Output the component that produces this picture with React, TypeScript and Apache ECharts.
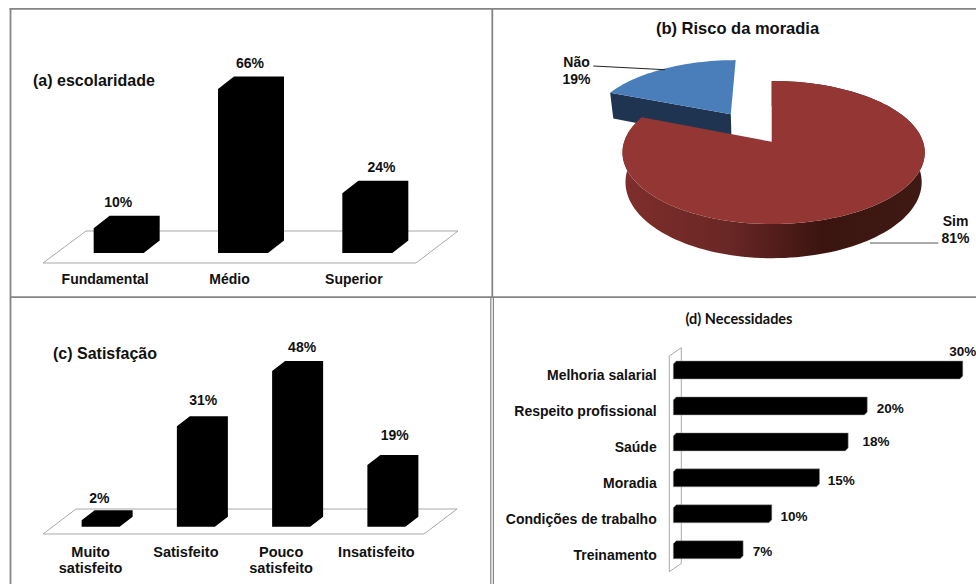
import React, { useEffect, useRef } from "react";
import * as echarts from "echarts";

const schoolingCategories = ["Fundamental", "Médio", "Superior"];
const schoolingValues = [10, 66, 24];
const schoolingLabelNudgeX = [13, 20.5, 27.7];

const riskNames = ["Não", "Sim"];
const riskValues = [19, 81];

const satisfactionCategories = ["Muito\nsatisfeito", "Satisfeito", "Pouco\nsatisfeito", "Insatisfeito"];
const satisfactionValues = [2, 31, 48, 19];
const satisfactionLabelNudgeX = [8.7, 17.3, 21, 18.4];
const satisfactionLabelNudgeY = [12, 15.7, 14, 20];

const needsCategories = ["Melhoria salarial", "Respeito profissional", "Saúde", "Moradia", "Condições de trabalho", "Treinamento"];
const needsValues = [30, 20, 18, 15, 10, 7];
const needsLabelNudgeX = [0, 23, 27.7, 21.7, 22.3, 19.4];
const needsLabelNudgeY = [-23.1, -1.8, -5.1, -2.5, -2.5, -2.8];

const ARIAL = "Liberation Sans, Arial, sans-serif";
const INK = "#111111";
const FRAME = "#858585";
const FLOOR = "#a8a8a8";

const label = (text: string, x: number, y: number, fontSize = 14, align = "center") => ({
  type: "text",
  x,
  y,
  silent: true,
  style: { text, fill: INK, fontFamily: ARIAL, fontWeight: "bold", fontSize, align, verticalAlign: "middle" },
});

function columnSeries(
  gridIndex: number,
  values: number[],
  geo: { w: number; dx: number; dy: number; ox: number; oy: number },
  nudgeX: number[],
  nudgeY: (i: number) => number
) {
  return {
    type: "custom",
    xAxisIndex: gridIndex,
    yAxisIndex: gridIndex,
    z: 5,
    clip: false,
    data: values.map((v, i) => [i, v]),
    encode: { x: 0, y: 1 },
    renderItem: (params: any, api: any) => {
      const i = params.dataIndex;
      const v = api.value(1);
      const [cx, top] = api.coord([i, v]);
      const [, base] = api.coord([i, 0]);
      const x0 = cx + geo.ox - geo.w / 2;
      const x1 = x0 + geo.w;
      const yf = top + geo.oy;
      const yb = base + geo.oy;
      return {
        type: "group",
        children: [
          {
            type: "polygon",
            shape: {
              points: [
                [x0, yb],
                [x0, yf],
                [x0 + geo.dx, yf - geo.dy],
                [x1 + geo.dx, yf - geo.dy],
                [x1 + geo.dx, yb - geo.dy],
                [x1, yb],
              ],
            },
            style: { fill: "#000" },
          },
          label(`${v}%`, cx + nudgeX[i], yf - geo.dy - nudgeY(i)),
        ],
      };
    },
  };
}

const needsSeries = {
  type: "custom",
  xAxisIndex: 2,
  yAxisIndex: 2,
  z: 5,
  clip: false,
  data: needsValues.map((v, i) => [v, i]),
  encode: { x: 0, y: 1 },
  renderItem: (params: any, api: any) => {
    const i = params.dataIndex;
    const v = api.value(0);
    const [end, cy] = api.coord([v, i]);
    const [start] = api.coord([0, i]);
    const x0 = start + 4;
    const x1 = end + 7;
    const yT = cy - 13.8;
    const yB = cy + 4.2;
    return {
      type: "group",
      children: [
        {
          type: "polygon",
          shape: {
            points: [
              [x0, yT + 3],
              [x0 + 3, yT],
              [x1, yT],
              [x1, yB - 3],
              [x1 - 3, yB],
              [x0, yB],
            ],
          },
          style: { fill: "#000", stroke: "#9a9a9a", lineWidth: 0.5 },
        },
        label(`${v}%`, x1 + needsLabelNudgeX[i], cy + needsLabelNudgeY[i], 13.5),
      ],
    };
  },
};

// Perspective of the tilted pie disc: unit-circle coordinates to screen pixels.
const PIE_X = 771.7;
const PIE_Y = 141.7;
const PIE_K = 0.151;
const PIE_A = 69.9;
const pieWidth = (u: number) => (u < 0 ? 147.5 : 151.3);
const pieTop = (u: number, v: number): [number, number] => {
  const d = 1 + PIE_K * v;
  return [PIE_X + (pieWidth(u) * u) / d, PIE_Y - (PIE_A * v) / d];
};
const pieLow = (u: number, v: number): [number, number] => {
  const d = 1 + PIE_K * v;
  return [PIE_X + (0.98 * pieWidth(u) * u) / d, PIE_Y - (PIE_A * v) / d + 29 / d];
};

const riskSeries = {
  type: "custom",
  coordinateSystem: "none",
  z: 5,
  data: riskValues,
  renderItem: (params: any, api: any) => {
    const i = params.dataIndex;
    const value = api.value(0);
    const total = riskValues[0] + riskValues[1];
    const isSim = riskNames[i] === "Sim";
    const sweep = (value / total) * 360;
    const start = isSim ? 0 : 360 - sweep;
    const mid = ((start + sweep / 2) * Math.PI) / 180;
    const off = isSim ? 0 : 0.504;
    const ou = off * Math.sin(mid);
    const ov = off * Math.cos(mid);
    const rim: [number, number][] = [];
    const n = Math.ceil(sweep / 2);
    for (let k = 0; k <= n; k++) {
      const a = ((start + (sweep * k) / n) * Math.PI) / 180;
      rim.push([ou + Math.sin(a), ov + Math.cos(a)]);
    }
    const topArc = rim.map(([u, v]) => pieTop(u, v));
    const apex = pieTop(ou, ov);
    const children: any[] = [];
    if (isSim) {
      const lowArc = rim.map(([u, v]) => pieLow(u, v)).reverse();
      children.push({
        type: "polygon",
        shape: { points: [...topArc, ...lowArc] },
        style: {
          fill: new echarts.graphic.LinearGradient(0, 0, 1, 0, [
            { offset: 0, color: "#7e2e2c" },
            { offset: 0.35, color: "#6a2725" },
            { offset: 0.66, color: "#3b1410" },
            { offset: 1, color: "#3f1a14" },
          ]),
        },
      });
      children.push({
        type: "polygon",
        shape: { points: [apex, ...topArc] },
        style: { fill: "#943634" },
      });
      children.push({
        type: "line",
        shape: { x1: 870, y1: 243, x2: 938.3, y2: 243 },
        style: { stroke: "#555", lineWidth: 1.2 },
      });
      children.push(label(`${riskNames[i]}\n${value}%`, 955.5, 229.5));
      (children[children.length - 1].style as any).lineHeight = 17;
    } else {
      const rimStart = rim[0];
      children.push({
        type: "polygon",
        x: -1.6,
        shape: {
          points: [apex, topArc[0], pieLow(rimStart[0], rimStart[1]), pieLow(ou, ov)],
        },
        style: { fill: "#1f3450" },
      });
      children.push({
        type: "polygon",
        x: -1.6,
        shape: { points: [apex, ...topArc] },
        style: { fill: "#4a7ebb" },
      });
      children.push({
        type: "line",
        shape: { x1: 593.3, y1: 66, x2: 665, y2: 69.7 },
        style: { stroke: "#222", lineWidth: 1 },
      });
      children.push(label(`${riskNames[i]}\n${value}%`, 576.5, 70));
      (children[children.length - 1].style as any).lineHeight = 17;
    }
    return { type: "group", children };
  },
};

const hiddenValueAxis = (gridIndex: number, max: number) => ({
  type: "value",
  gridIndex,
  min: 0,
  max,
  show: false,
});

const categoryAxis = (gridIndex: number, data: string[], fontSize: number, margin: number, inverse = false) => ({
  type: "category",
  gridIndex,
  data,
  inverse,
  axisLine: { show: false },
  axisTick: { show: false },
  splitLine: { show: false },
  axisLabel: {
    interval: 0,
    margin,
    color: INK,
    fontFamily: ARIAL,
    fontWeight: "bold",
    fontSize,
    lineHeight: 16.7,
  },
});

const frameLine = (x1: number, y1: number, x2: number, y2: number, lineWidth = 1.8) => ({
  type: "line",
  z: 1,
  silent: true,
  shape: { x1, y1, x2, y2 },
  style: { stroke: FRAME, lineWidth },
});

const plane = (points: number[][], fill = "#ffffff") => ({
  type: "polygon",
  z: 1,
  silent: true,
  shape: { points },
  style: { fill, stroke: FLOOR, lineWidth: 1 },
});

const heading = (text: string, x: number, y: number, fontSize: number, align: string, fontFamily = ARIAL) => ({
  type: "text",
  z: 10,
  silent: true,
  x,
  y,
  style: { text, fill: INK, fontFamily, fontWeight: "bold", fontSize, align, verticalAlign: "middle" },
});

export default function App() {
  const ref = useRef<HTMLDivElement>(null);
  useEffect(() => {
    document.body.style.margin = "0";
    document.body.style.overflow = "hidden";
    const chart = echarts.init(ref.current!, undefined, { renderer: "svg" });
    chart.setOption({
      animation: false,
      backgroundColor: "#ffffff",
      grid: [
        { left: 43, top: 89, width: 373, height: 174 },
        { left: 43, top: 371.8, width: 381, height: 162.2 },
        { left: 669.3, top: 356.8, width: 286.5, height: 215.7 },
      ],
      xAxis: [
        categoryAxis(0, schoolingCategories, 14, 8),
        categoryAxis(1, satisfactionCategories, 14.5, 9.3),
        hiddenValueAxis(2, 30),
      ],
      yAxis: [
        hiddenValueAxis(0, 70),
        hiddenValueAxis(1, 50),
        categoryAxis(2, needsCategories, 14, 12.6, true),
      ],
      graphic: [
        frameLine(9.6, 8.8, 976, 8.8),
        frameLine(10.5, 8, 10.5, 584),
        frameLine(10, 297.2, 976, 297.2),
        frameLine(492.3, 9, 492.3, 297),
        frameLine(490.8, 297, 490.8, 584, 1.2),
        frameLine(493.4, 297, 493.4, 584, 1.2),
        plane([[43, 263], [416, 263], [458, 231], [86, 231]]),
        plane([[43, 534], [424, 534], [457, 509], [76, 509]]),
        plane([[669.3, 356], [681.3, 347.7], [681.3, 563.5], [669.3, 571.7]]),
        heading("(a) escolaridade", 33, 80, 16, "left"),
        heading("(b) Risco da moradia", 737.5, 28, 16.5, "center"),
        heading("(c) Satisfação", 53, 353, 16, "left"),
        heading("(d) Necessidades", 739, 318, 14.5, "center", "Lato, sans-serif"),
      ],
      series: [
        columnSeries(0, schoolingValues, { w: 50, dx: 16, dy: 12.5, ox: 13.5, oy: -10 }, schoolingLabelNudgeX, () => 13.5),
        columnSeries(1, satisfactionValues, { w: 38, dx: 13, dy: 10, ox: 10, oy: -7.3 }, satisfactionLabelNudgeX, (i) => satisfactionLabelNudgeY[i]),
        needsSeries,
        riskSeries,
      ],
    });
    return () => chart.dispose();
  }, []);
  return <div ref={ref} style={{ position: "absolute", left: 0, top: 0, width: 976, height: 584 }} />;
}
